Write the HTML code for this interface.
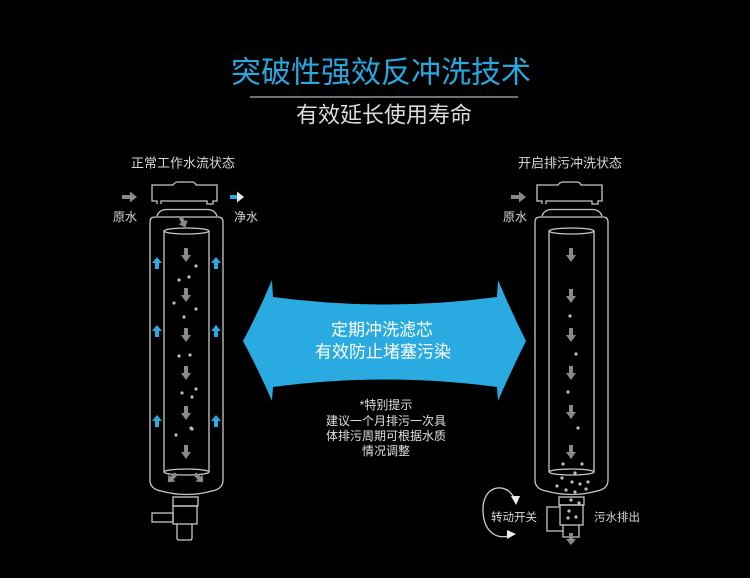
<!DOCTYPE html>
<html><head><meta charset="utf-8"><style>
html,body{margin:0;padding:0;background:#000;}
svg{display:block;}
text{font-family:"Liberation Sans","Noto Sans CJK SC",sans-serif;}
</style></head><body>
<svg width="750" height="578" viewBox="0 0 750 578" xmlns="http://www.w3.org/2000/svg">
<defs>
<path id="gd" d="M-2,-7 L2,-7 L2,0 L5,0 L0,7 L-5,0 L-2,0 Z" fill="#8a8a8a"/>
<path id="bu" d="M0,-6 L5,0 L2,0 L2,6 L-2,6 L-2,0 L-5,0 Z" fill="#29abe2"/>
<g id="filt" fill="none" stroke="#c8c8c8" stroke-width="1.3">
  <path d="M157,204 L157,201 L152,201 L152,185 L173,185 Q175,182 178,182 L192,182 Q195,182 196,185 L217,185 L217,201 L213,201 L213,204 L207,204 L207,201 L161,201 L161,204"/>
  <path d="M157,216 Q159,210 166,209.5 L208,209.5 Q215,210 217,216"/>
  <path d="M150,480 L150,222 Q150,217 155,217 L218,217 Q223,217 223,222 L223,480 Q223,489 212,491 Q187,498 161,491 Q150,489 150,480 Z"/>
  <ellipse cx="186.5" cy="231" rx="22.5" ry="3"/>
  <path d="M164,231 L164,472 M209,231 L209,472"/>
  <ellipse cx="186.5" cy="472" rx="22.5" ry="3"/>
</g>
</defs>

<!-- Title -->
<text x="381" y="73" font-size="30" fill="#29a8e0" text-anchor="middle" dominant-baseline="central">突破性强效反冲洗技术</text>
<line x1="250" y1="97" x2="518" y2="97" stroke="#b5b5b5" stroke-width="1.3"/>
<text x="384" y="115" font-size="22" fill="#dcdcdc" text-anchor="middle" dominant-baseline="central">有效延长使用寿命</text>

<!-- Left filter -->
<text x="183" y="163" font-size="13" fill="#d8d8d8" text-anchor="middle" dominant-baseline="central">正常工作水流状态</text>
<path d="M122,195 L130,195 L130,191.5 L137,197 L130,202.5 L130,199 L122,199 Z" fill="#8a8a8a"/>
<text x="125" y="217" font-size="12" fill="#d8d8d8" text-anchor="middle" dominant-baseline="central">原水</text>
<path d="M230,195 L237,195 L237,199 L230,199 Z" fill="#29abe2"/>
<path d="M237,191.5 L244,197 L237,202.5 Z" fill="#e8e8e8"/>
<text x="246" y="217" font-size="12" fill="#d8d8d8" text-anchor="middle" dominant-baseline="central">净水</text>

<use href="#filt"/>
<g fill="none" stroke="#c8c8c8" stroke-width="1.3">
  <rect x="173" y="497" width="25" height="9"/>
  <rect x="173" y="506" width="24" height="18"/>
  <rect x="152" y="513" width="21" height="9"/>
  <path d="M177,524 L177,538 Q177,540 179,540 L190,540 Q192,540 192,538 L192,524"/>
</g>
<path d="M-2,-6 L2,-6 L2,0 L5,0 L0,6 L-5,0 L-2,0 Z" fill="#8a8a8a" transform="translate(183,222) rotate(-25)"/>
<use href="#gd" x="186" y="255"/>
<use href="#gd" x="186" y="295"/>
<use href="#gd" x="186" y="335"/>
<use href="#gd" x="186" y="373"/>
<use href="#gd" x="186" y="413"/>
<use href="#gd" x="186" y="452"/>
<path d="M-2,-6 L2,-6 L2,0 L5,0 L0,6 L-5,0 L-2,0 Z" fill="#8a8a8a" transform="translate(172,478) rotate(45)"/>
<path d="M-2,-6 L2,-6 L2,0 L5,0 L0,6 L-5,0 L-2,0 Z" fill="#8a8a8a" transform="translate(199,478) rotate(-45)"/>
<use href="#bu" x="157" y="263"/><use href="#bu" x="216" y="263"/>
<use href="#bu" x="157" y="331"/><use href="#bu" x="216" y="331"/>
<use href="#bu" x="157" y="421"/><use href="#bu" x="216" y="421"/>
<g fill="#bdbdbd">
  <circle cx="196" cy="266" r="1.6"/><circle cx="179" cy="280" r="1.6"/><circle cx="189" cy="277" r="1.6"/>
  <circle cx="174" cy="303" r="1.6"/><circle cx="196" cy="309" r="1.6"/><circle cx="184" cy="317" r="1.6"/>
  <circle cx="179" cy="356" r="1.6"/><circle cx="190" cy="355" r="1.6"/>
  <circle cx="196" cy="389" r="1.6"/><circle cx="182" cy="393" r="1.6"/><circle cx="192" cy="397" r="1.6"/>
  <circle cx="191" cy="428" r="1.6"/><circle cx="176" cy="435" r="1.6"/><circle cx="192" cy="429" r="1.6"/>
</g>

<!-- Right filter -->
<text x="570" y="163" font-size="13" fill="#d8d8d8" text-anchor="middle" dominant-baseline="central">开启排污冲洗状态</text>
<path d="M511,195 L519,195 L519,191.5 L526,197 L519,202.5 L519,199 L511,199 Z" fill="#8a8a8a"/>
<text x="515" y="217" font-size="12" fill="#d8d8d8" text-anchor="middle" dominant-baseline="central">原水</text>
<use href="#filt" transform="translate(385,0)"/>
<g fill="none" stroke="#c8c8c8" stroke-width="1.3">
  <rect x="559" y="497" width="25" height="8"/>
  <rect x="560" y="505" width="23" height="20"/>
  <path d="M563,525 L563,537 L579,537 L579,525"/>
  <path d="M560,507 L547,507 L547,531 L563,531"/>
</g>
<use href="#gd" x="571" y="255"/>
<use href="#gd" x="571" y="296"/>
<use href="#gd" x="571" y="335"/>
<use href="#gd" x="571" y="373"/>
<use href="#gd" x="571" y="412"/>
<use href="#gd" x="571" y="452"/>
<path d="M-2,-6 L2,-6 L2,0 L5,0 L0,6 L-5,0 L-2,0 Z" fill="#8a8a8a" transform="translate(571,539)"/>
<g fill="#bdbdbd">
  <circle cx="570" cy="316" r="1.6"/><circle cx="576" cy="354" r="1.6"/><circle cx="568" cy="392" r="1.6"/><circle cx="578" cy="428" r="1.6"/>
  <circle cx="563" cy="464" r="1.6"/><circle cx="582" cy="464" r="1.6"/><circle cx="575" cy="473" r="1.6"/>
  <circle cx="562" cy="478" r="1.6"/><circle cx="572" cy="482" r="1.6"/><circle cx="580" cy="484" r="1.6"/><circle cx="588" cy="482" r="1.6"/>
  <circle cx="557" cy="486" r="1.6"/><circle cx="566" cy="490" r="1.6"/><circle cx="575" cy="492" r="1.6"/><circle cx="586" cy="489" r="1.6"/>
  <circle cx="571" cy="500" r="1.6"/><circle cx="579" cy="503" r="1.6"/>
  <circle cx="569" cy="511" r="1.6"/><circle cx="568" cy="518" r="1.6"/><circle cx="576" cy="517" r="1.6"/>
</g>
<!-- rotation -->
<path d="M514,498 C507,482 482,484 483,511 C484,535 500,540 511,535" fill="none" stroke="#d0d0d0" stroke-width="1.3"/>
<path d="M511,496 L520,496 L516,505 Z" fill="#eeeeee"/>
<path d="M507,530 L516,534 L507,539 Z" fill="#eeeeee"/>
<text x="514" y="518" font-size="11.5" fill="#d8d8d8" text-anchor="middle" dominant-baseline="central">转动开关</text>
<text x="617" y="518" font-size="11.5" fill="#d8d8d8" text-anchor="middle" dominant-baseline="central">污水排出</text>

<!-- Center arrow -->
<path d="M243,341 Q259,311 272,280 L273,297 Q385,312 497,297 L498,280 Q511,311 526,341 Q511,371 498,401 L497,387 Q385,372 273,387 L272,401 Q259,371 243,341 Z" fill="#29abe2"/>
<text x="382" y="330" font-size="17" fill="#ffffff" text-anchor="middle" dominant-baseline="central">定期冲洗滤芯</text>
<text x="383" y="352" font-size="17" fill="#ffffff" text-anchor="middle" dominant-baseline="central">有效防止堵塞污染</text>

<!-- Note -->
<g font-size="12" fill="#e0e0e0" text-anchor="middle">
  <text x="386" y="405" dominant-baseline="central">*特别提示</text>
  <text x="386" y="421" dominant-baseline="central">建议一个月排污一次具</text>
  <text x="386" y="436" dominant-baseline="central">体排污周期可根据水质</text>
  <text x="386" y="451" dominant-baseline="central">情况调整</text>
</g>
</svg>
</body></html>
